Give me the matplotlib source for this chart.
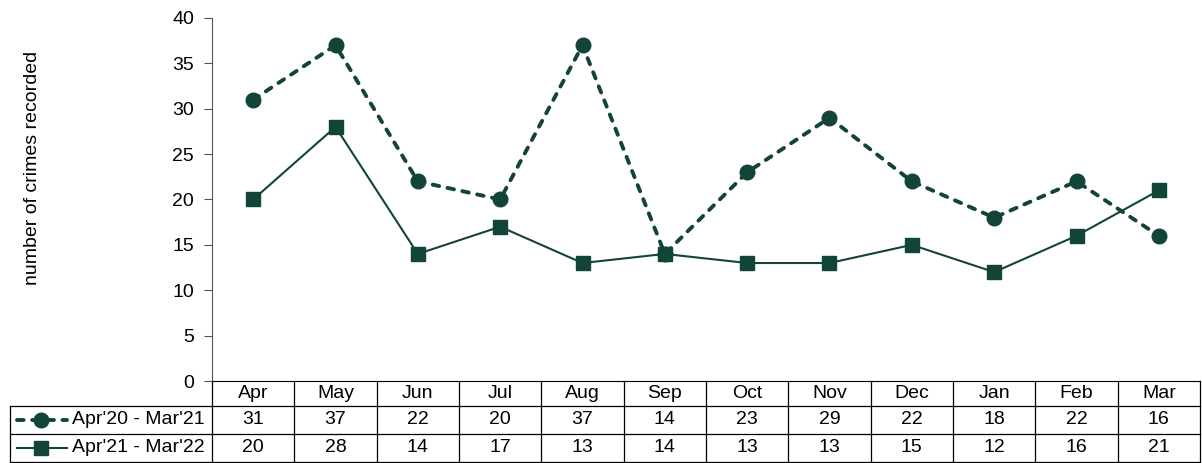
import matplotlib.pyplot as plt
import matplotlib.transforms as mtransforms

plt.rcParams['font.family'] = ['Liberation Sans', 'DejaVu Sans']

months = ['Apr', 'May', 'Jun', 'Jul', 'Aug', 'Sep', 'Oct', 'Nov', 'Dec', 'Jan', 'Feb', 'Mar']
crimes_2021 = [31, 37, 22, 20, 37, 14, 23, 29, 22, 18, 22, 16]
crimes_2122 = [20, 28, 14, 17, 13, 14, 13, 13, 15, 12, 16, 21]
series_names = ["Apr'20 - Mar'21", "Apr'21 - Mar'22"]

green = '#12443a'
fs = 14

W, H = 1202, 463
fig = plt.figure(figsize=(W / 100, H / 100), dpi=100)
# plot area in pixels: x 212..1200, y 18..381
ax = fig.add_axes([212 / W, (H - 381) / H, 988 / W, 363 / H])

dashed = dict(lw=2.8, ls=(0, (1.7, 2.2)), dash_capstyle='round', marker='o', ms=10.5)
solid = dict(lw=1.5, ls='-', marker='s', ms=9.5)

x = list(range(len(months)))
ax.plot(x, crimes_2021, color=green, **dashed)
ax.plot(x, crimes_2122, color=green, **solid)

ax.set_xlim(-0.5, len(months) - 0.5)
ax.set_ylim(0, 40)
ax.set_yticks(range(0, 41, 5))
ax.tick_params(axis='y', labelsize=fs, length=6, width=0.8, color='#555555', pad=7)
ax.set_xticks([])
ax.spines['top'].set_visible(False)
ax.spines['right'].set_visible(False)
ax.spines['left'].set_color('#555555')
ax.spines['left'].set_linewidth(0.8)
ax.spines['bottom'].set_color('black')
ax.spines['bottom'].set_linewidth(0.8)

fig.text(33 / W, 1 - 168 / H, 'number of crimes recorded', rotation=90,
         ha='center', va='center', fontsize=fs)

# data table below the axis (x in data units, y in axes fraction)
tr = mtransforms.blended_transform_factory(ax.transData, ax.transAxes)
px_x = 988 / len(months)
def xd(px):
    return -0.5 + (px - 212) / px_x
def yf(py):
    return (381 - py) / 363

row_y = [yf(381), yf(406), yf(434), yf(462)]
left = xd(10)
right = len(months) - 0.5
lk = dict(color='black', lw=0.9, transform=tr, clip_on=False)

for ry in row_y[1:]:
    ax.plot([left, right], [ry, ry], **lk)
ax.plot([left, left], [row_y[1], row_y[3]], **lk)
for k in range(len(months) + 1):
    ax.plot([k - 0.5, k - 0.5], [row_y[0], row_y[3]], **lk)

for i, m in enumerate(months):
    ax.text(i, (row_y[0] + row_y[1]) / 2, m, transform=tr, ha='center', va='center', fontsize=fs)
    ax.text(i, (row_y[1] + row_y[2]) / 2, str(crimes_2021[i]), transform=tr,
            ha='center', va='center', fontsize=fs)
    ax.text(i, (row_y[2] + row_y[3]) / 2, str(crimes_2122[i]), transform=tr,
            ha='center', va='center', fontsize=fs)

# legend keys inside the row label cells
for r, (name, st) in enumerate(zip(series_names, [dashed, solid])):
    yc = (row_y[r + 1] + row_y[r + 2]) / 2
    ax.plot([xd(17), xd(67)], [yc, yc], color=green, transform=tr, clip_on=False,
            markevery=[], **st)
    ax.plot([xd(41)], [yc], color=green, transform=tr, clip_on=False,
            marker=st['marker'], ms=st['ms'], ls='none')
    ax.text(xd(72), yc, name, transform=tr, ha='left', va='center', fontsize=fs)

fig.savefig('out.png', dpi=100)
